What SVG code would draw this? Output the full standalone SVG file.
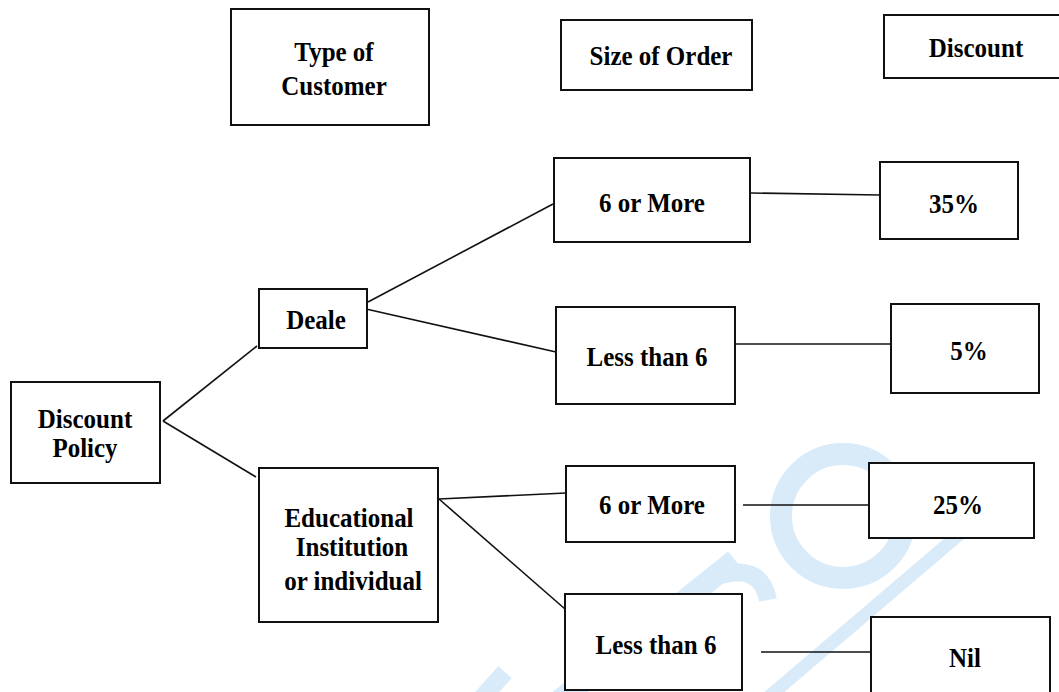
<svg xmlns="http://www.w3.org/2000/svg" width="1059" height="692" viewBox="0 0 1059 692">
<style>
.box{fill:#fff;stroke:#111;stroke-width:2}
.ln{stroke:#111;stroke-width:1.6;fill:none}
.t{font-family:"Liberation Serif","Times New Roman",serif;font-weight:bold;font-size:25px;fill:#000;text-anchor:middle}
.wm{fill:none;stroke:#d9ebf9;stroke-linecap:butt}
</style>
<rect width="1059" height="692" fill="#fff"/>
<g id="watermark">
<circle class="wm" cx="843" cy="516" r="62" stroke-width="22"/>
<path class="wm" d="M560 700 L735 560" stroke-width="22"/>
<path class="wm" d="M712 578 Q760 560 768 600" stroke-width="18"/>
<path class="wm" d="M765 700 L962 532" stroke-width="13"/>
<path class="wm" d="M480 700 L505 672" stroke-width="18"/>
</g>
<g id="connectors">
<line class="ln" x1="163" y1="421" x2="257" y2="346"/>
<line class="ln" x1="163" y1="421" x2="256" y2="477"/>
<line class="ln" x1="368" y1="302" x2="553" y2="204"/>
<line class="ln" x1="366" y1="309" x2="556" y2="352"/>
<line class="ln" x1="751" y1="193" x2="880" y2="195"/>
<line class="ln" x1="734" y1="344" x2="891" y2="344"/>
<line class="ln" x1="439" y1="499" x2="566" y2="493"/>
<line class="ln" x1="439" y1="499" x2="565" y2="609"/>
<line class="ln" x1="743" y1="505" x2="869" y2="505"/>
<line class="ln" x1="761" y1="652" x2="871" y2="652"/>
</g>
<g id="type-of-customer"><rect class="box" x="231" y="9" width="198" height="116"/><text class="t" transform="matrix(1,0,0,1.13,334,61)">Type of</text><text class="t" transform="matrix(1,0,0,1.13,334,95)">Customer</text></g>
<g id="size-of-order"><rect class="box" x="561" y="20" width="191" height="70"/><text class="t" transform="matrix(1,0,0,1.13,661,65)">Size of Order</text></g>
<g id="discount"><rect class="box" x="884" y="15" width="180" height="63"/><text class="t" transform="matrix(1,0,0,1.13,976,57)">Discount</text></g>
<g id="discount-policy"><rect class="box" x="11" y="382" width="149" height="101"/><text class="t" transform="matrix(1,0,0,1.13,85,428)">Discount</text><text class="t" transform="matrix(1,0,0,1.13,85,457)">Policy</text></g>
<g id="deale"><rect class="box" x="259" y="289" width="108" height="59"/><text class="t" transform="matrix(1,0,0,1.13,316,329)">Deale</text></g>
<g id="educational"><rect class="box" x="259" y="468" width="179" height="154"/><text class="t" transform="matrix(1,0,0,1.13,349,527)">Educational</text><text class="t" transform="matrix(1,0,0,1.13,352,556)">Institution</text><text class="t" transform="matrix(1,0,0,1.13,353,590)">or individual</text></g>
<g id="six-more-1"><rect class="box" x="554" y="158" width="196" height="84"/><text class="t" transform="matrix(1,0,0,1.13,652,212)">6 or More</text></g>
<g id="less-6-1"><rect class="box" x="556" y="307" width="179" height="97"/><text class="t" transform="matrix(1,0,0,1.13,647,366)">Less than 6</text></g>
<g id="six-more-2"><rect class="box" x="566" y="466" width="169" height="76"/><text class="t" transform="matrix(1,0,0,1.13,652,514)">6 or More</text></g>
<g id="less-6-2"><rect class="box" x="565" y="594" width="177" height="96"/><text class="t" transform="matrix(1,0,0,1.13,656,654)">Less than 6</text></g>
<g id="p35"><rect class="box" x="880" y="162" width="138" height="77"/><text class="t" transform="matrix(1,0,0,1.13,954,213)">35%</text></g>
<g id="p5"><rect class="box" x="891" y="304" width="148" height="89"/><text class="t" transform="matrix(1,0,0,1.13,969,360)">5%</text></g>
<g id="p25"><rect class="box" x="869" y="463" width="165" height="75"/><text class="t" transform="matrix(1,0,0,1.13,958,514)">25%</text></g>
<g id="nil"><rect class="box" x="871" y="617" width="179" height="80"/><text class="t" transform="matrix(1,0,0,1.13,965,667)">Nil</text></g>
</svg>
